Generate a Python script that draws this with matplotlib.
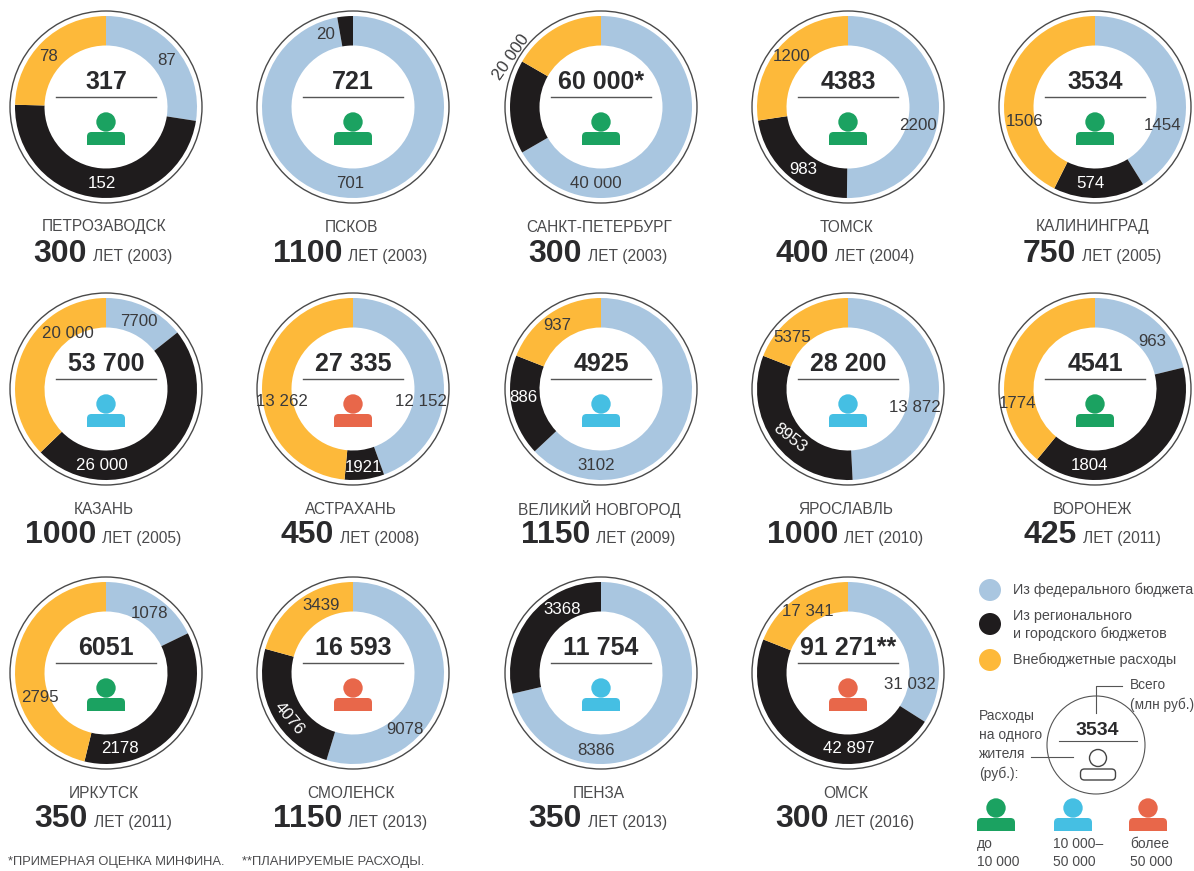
import matplotlib
matplotlib.use("Agg")
import matplotlib.pyplot as plt
from matplotlib.patches import Circle, FancyBboxPatch

NARROW = ["Liberation Sans", "DejaVu Sans"]
BOLD = ["Liberation Sans", "DejaVu Sans"]

BLUE = "#A9C6E0"
BLACK = "#1F1C1D"
YELLOW = "#FDB93A"
GREEN = "#1BA261"
CYAN = "#45BFE3"
RED = "#E8674A"
TEXT = "#3A3A3C"
GREY = "#4A4A4C"

# data
cities = ["ПЕТРОЗАВОДСК", "ПСКОВ", "САНКТ-ПЕТЕРБУРГ", "ТОМСК", "КАЛИНИНГРАД",
          "КАЗАНЬ", "АСТРАХАНЬ", "ВЕЛИКИЙ НОВГОРОД", "ЯРОСЛАВЛЬ", "ВОРОНЕЖ",
          "ИРКУТСК", "СМОЛЕНСК", "ПЕНЗА", "ОМСК"]
ages = ["300", "1100", "300", "400", "750",
        "1000", "450", "1150", "1000", "425",
        "350", "1150", "350", "300"]
years = [2003, 2003, 2003, 2004, 2005,
         2005, 2008, 2009, 2010, 2011,
         2011, 2013, 2013, 2016]
totals = ["317", "721", "60 000*", "4383", "3534",
          "53 700", "27 335", "4925", "28 200", "4541",
          "6051", "16 593", "11 754", "91 271**"]
federal = [87, 701, 40000, 2200, 1454,
           7700, 12152, 3102, 13872, 963,
           1078, 9078, 8386, 31032]
regional = [152, 20, 10000, 983, 574,
            26000, 1921, 886, 8953, 1804,
            2178, 4076, 3368, 42897]
offbudget = [78, 0, 10000, 1200, 1506,
             20000, 13262, 937, 5375, 1774,
             2795, 3439, 0, 17341]
person_color = [GREEN, GREEN, GREEN, GREEN, GREEN,
                CYAN, RED, CYAN, CYAN, GREEN,
                GREEN, RED, CYAN, RED]

legend_labels = ["Из федерального бюджета", "Из регионального\nи городского бюджетов", "Внебюджетные расходы"]
per_capita_labels = ["до\n10 000", "10 000–\n50 000", "более\n50 000"]

# layout
centers_x = [106, 353, 601, 848, 1095]
centers_y = [107, 389, 673]
city_y = [227, 509, 793]
age_y = [254, 535, 819]

# value label placement: text, x, y, colour, rotation (one list per donut)
value_labels = [
    [("87", 167, 61, TEXT, 0), ("152", 102, 183, "white", 0), ("78", 49, 57, TEXT, 0)],
    [("701", 350, 183, TEXT, 0), ("20", 326, 35, TEXT, 0)],
    [("40 000", 596, 183, TEXT, 0), ("20 000", 511, 57, TEXT, 55)],
    [("2200", 918, 126, TEXT, 0), ("983", 803, 169, "white", 0), ("1200", 792, 57, TEXT, 0)],
    [("1454", 1163, 126, TEXT, 0), ("574", 1090, 183, "white", 0), ("1506", 1025, 121, TEXT, 0)],
    [("7700", 139, 321, TEXT, 0), ("26 000", 102, 466, "white", 0), ("20 000", 68, 333, TEXT, 0)],
    [("12 152", 421, 401, TEXT, 0), ("1921", 364, 467, "white", 0), ("13 262", 282, 401, TEXT, 0)],
    [("3102", 596, 466, TEXT, 0), ("886", 523, 398, "white", 0), ("937", 557, 326, TEXT, 0)],
    [("13 872", 915, 408, TEXT, 0), ("8953", 790, 438, "white", -38), ("5375", 792, 338, TEXT, 0)],
    [("963", 1152, 341, TEXT, 0), ("1804", 1090, 465, "white", 0), ("1774", 1018, 403, TEXT, 0)],
    [("1078", 149, 613, TEXT, 0), ("2178", 120, 748, "white", 0), ("2795", 40, 697, TEXT, 0)],
    [("9078", 405, 729, TEXT, 0), ("4076", 289, 718, "white", -50), ("3439", 321, 606, TEXT, 0)],
    [("8386", 596, 750, TEXT, 0), ("3368", 562, 610, "white", 0)],
    [("31 032", 910, 684, TEXT, 0), ("42 897", 849, 748, "white", 0), ("17 341", 808, 611, TEXT, 0)],
]

H = 871


def Y(y):
    return H - y


def person(ax, x, y, color, filled=True):
    # y is the head centre
    if filled:
        ax.add_patch(Circle((x, Y(y)), 9.7, fc=color, ec="none", zorder=4))
        ax.add_patch(FancyBboxPatch((x - 19, Y(y + 23)), 38, 13, boxstyle="round,pad=0,rounding_size=4.5",
                                    fc=color, ec="none", zorder=4))
        ax.fill_between([x - 19, x + 19], Y(y + 23), Y(y + 17), color=color, lw=0, zorder=4)
    else:
        ax.add_patch(Circle((x, Y(y)), 8.5, fc="white", ec=color, lw=1, zorder=4))
        ax.add_patch(FancyBboxPatch((x - 17.5, Y(y + 22)), 35, 11, boxstyle="round,pad=0,rounding_size=4",
                                    fc="white", ec=color, lw=1, zorder=4))


def text(ax, x, y, s, size=12, color=TEXT, family=NARROW, weight="normal", ha="center", rotation=0, linespacing=1.15):
    return ax.text(x, Y(y), s, fontsize=size, color=color, family=family, fontweight=weight,
                   ha=ha, va="center", rotation=rotation, linespacing=linespacing, zorder=5)


fig = plt.figure(figsize=(11.94, 8.71), dpi=100)
ax = fig.add_axes([0, 0, 1, 1])

for i, city in enumerate(cities):
    cx = centers_x[i % 5]
    cy = centers_y[i // 5]
    values = [federal[i], regional[i], offbudget[i]]
    ax.pie(values, colors=[BLUE, BLACK, YELLOW], startangle=90, counterclock=False,
           center=(cx, Y(cy)), radius=91, wedgeprops=dict(width=29.5, linewidth=0))
    ax.add_patch(Circle((cx, Y(cy)), 96, fc="none", ec="#4A4A4A", lw=1, zorder=3))

    text(ax, cx, cy - 25, totals[i], size=18, color="#2A2A2C", family=BOLD, weight="bold")
    ax.plot([cx - 50, cx + 50], [Y(cy - 10), Y(cy - 10)], color="#555555", lw=1, zorder=3)
    person(ax, cx, cy + 15, person_color[i])

    for s, lx, ly, col, rot in value_labels[i]:
        text(ax, lx, ly, s, size=12.2, color=col, rotation=rot)

    text(ax, cx - 2, city_y[i // 5], city, size=11.2, color=GREY)

ax.set_xlim(0, 1194)
ax.set_ylim(0, H)
ax.set_aspect("auto")
ax.axis("off")

# "300 ЛЕТ (2003)" is two styles, so measure it and centre the pair
fig.canvas.draw()
rend = fig.canvas.get_renderer()
for i in range(len(cities)):
    cx = centers_x[i % 5]
    y = age_y[i // 5]
    big = text(ax, 0, y, ages[i], size=23, color="#2A2A2C", family=BOLD, weight="bold", ha="left")
    small = text(ax, 0, y + 3, "ЛЕТ (%d)" % years[i], size=11.2, color=GREY, ha="left")
    w1 = big.get_window_extent(rend).width
    w2 = small.get_window_extent(rend).width
    left = cx - 3 - (w1 + 6 + w2) / 2
    big.set_x(left)
    small.set_x(left + w1 + 6)

# legend
for col, ly, s, ty in zip([BLUE, BLACK, YELLOW], [590, 624, 660], legend_labels, [590, 625, 660]):
    ax.add_patch(Circle((990, Y(ly)), 11, fc=col, ec="none"))
    text(ax, 1013, ty, s, size=10.4, color=GREY, ha="left", linespacing=1.37)

# how to read a donut
ax.add_patch(Circle((1096, Y(745)), 49, fc="white", ec="#555555", lw=0.8))
text(ax, 1097, 730, "3534", size=14, color="#2A2A2C", family=BOLD, weight="bold")
ax.plot([1059, 1137], [Y(741), Y(741)], color="#555555", lw=0.8, zorder=3)
person(ax, 1098, 758, "#444444", filled=False)
ax.plot([1096, 1096, 1122], [Y(713), Y(686), Y(686)], color="#555555", lw=0.8, zorder=3)
ax.plot([1031, 1073], [Y(757), Y(757)], color="#555555", lw=0.8, zorder=3)
text(ax, 1130, 695, "Всего\n(млн руб.)", size=9.8, color=GREY, ha="left", linespacing=1.45)
text(ax, 979, 745, "Расходы\nна одного\nжителя\n(руб.):", size=10, color=GREY, ha="left", linespacing=1.45)

for col, px, tx, s in zip([GREEN, CYAN, RED], [996, 1073, 1148], [977, 1053, 1130], per_capita_labels):
    person(ax, px, 808, col)
    text(ax, tx, 853, s, size=10, color=GREY, ha="left", linespacing=1.33)

text(ax, 8, 862, "*ПРИМЕРНАЯ ОЦЕНКА МИНФИНА.", size=9.3, color=GREY, ha="left")
text(ax, 242, 862, "**ПЛАНИРУЕМЫЕ РАСХОДЫ.", size=9.4, color=GREY, ha="left")

fig.savefig("out.png", dpi=100)
